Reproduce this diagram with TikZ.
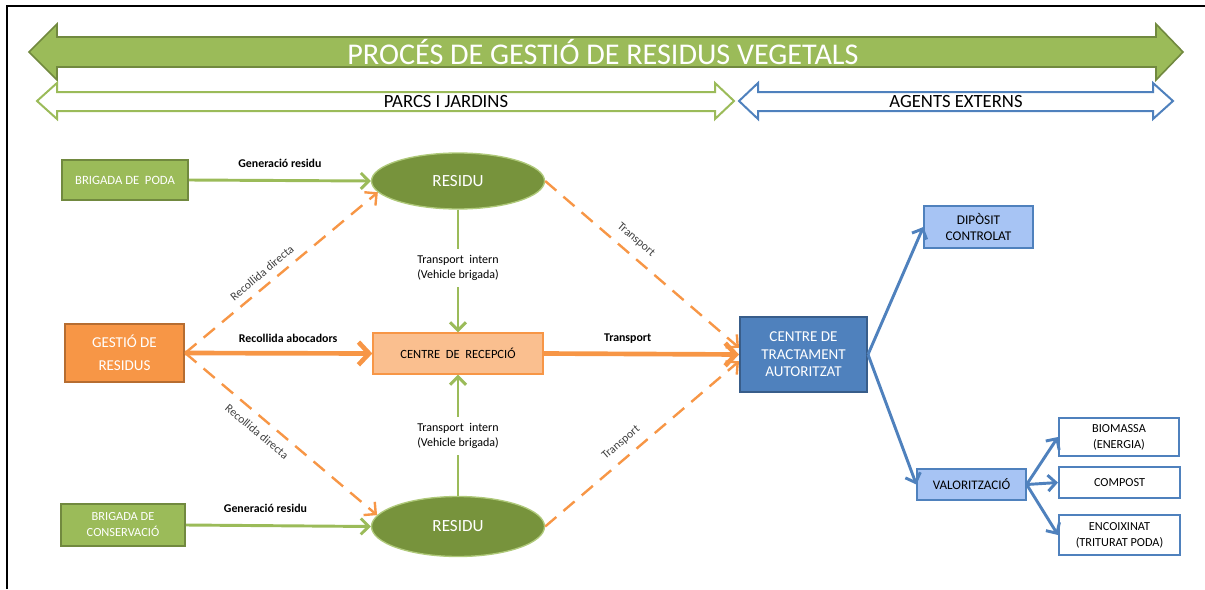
\documentclass[tikz,border=0pt]{standalone}
\usepackage{fontspec}
\setmainfont{Carlito}
\usetikzlibrary{arrows.meta,shapes.geometric,calc}
\definecolor{gA}{HTML}{9BBB59}
\definecolor{gB}{HTML}{77933C}
\definecolor{gBd}{HTML}{71893F}
\definecolor{oA}{HTML}{F79646}
\definecolor{oL}{HTML}{FABF8F}
\definecolor{oBd}{HTML}{B66D31}
\definecolor{bA}{HTML}{4F81BD}
\definecolor{bBd}{HTML}{385D8A}
\definecolor{bL}{HTML}{A7C4F4}
\definecolor{lbl}{HTML}{404040}
\tikzset{
  box/.style={rectangle, inner sep=1pt, align=center},
  greenbox/.style={box, fill=gA, draw=gBd, line width=1.5pt, text=white},
  residu/.style={ellipse, inner sep=0pt, fill=gB, draw=gA!80!white, line width=1pt, text=white, font=\fontsize{12.8}{14}\selectfont},
  lightblue/.style={box, fill=bL, draw=bA, line width=1pt, text=black},
  whitebox/.style={box, fill=white, draw=bA, line width=1.5pt, text=black},
  garrow/.style={draw=gA, line width=2.2pt, -{Straight Barb[length=6pt,width=12pt,line width=2.2pt]}},
  gline/.style={draw=gA, line width=2.2pt},
  othick/.style={draw=oA, line width=3.5pt, -{Straight Barb[length=8pt,width=17pt,line width=3.5pt]}},
  odash/.style={draw=oA, line width=1.8pt, dash pattern=on 11pt off 7pt, -{Straight Barb[length=6.5pt,width=13pt,line width=1.8pt]}},
  barrow/.style={draw=bA, line width=2.2pt, -{Straight Barb[length=6pt,width=12pt,line width=2.2pt]}},
  boldlbl/.style={font=\bfseries\fontsize{8.9}{10}\selectfont, text=black},
  rotlbl/.style={font=\fontsize{8.8}{10}\selectfont, text=lbl, sloped},
  smalllbl/.style={font=\fontsize{9}{11}\selectfont, text=black, align=center}
}
\begin{document}
\begin{tikzpicture}[x=0.75pt,y=-0.75pt]
\useasboundingbox (0,0) rectangle (1205,589);
% frame
\draw[line width=1.5pt, black] (7,589) -- (7,6) -- (1205,6);
% big arrow
\draw[fill=gA, draw=gBd, line width=1.2pt] (29,52) -- (57,24) -- (57,37) -- (1156,37) -- (1156,24) -- (1183,52) -- (1156,80) -- (1156,67) -- (57,67) -- (57,80) -- cycle;
\node[text=white, font=\fontsize{22.6}{24}\selectfont] (title) at (603,52) {PROCÉS DE GESTIÓ DE RESIDUS VEGETALS};
% parcs arrow
\draw[fill=white, draw=gA, line width=1.5pt] (37,101) -- (57,83) -- (57,92) -- (715,92) -- (715,83) -- (734,101) -- (715,119) -- (715,111) -- (57,111) -- (57,119) -- cycle;
\node[font=\fontsize{14}{15}\selectfont] (parcs) at (446,102) {PARCS I JARDINS};
% agents arrow
\draw[fill=white, draw=bA, line width=1.5pt] (739,101) -- (758,83) -- (758,92) -- (1153,92) -- (1153,83) -- (1173,101) -- (1153,119) -- (1153,111) -- (758,111) -- (758,119) -- cycle;
\node[font=\fontsize{14}{15}\selectfont] (agents) at (956,102) {AGENTS EXTERNS};
% nodes
\node[greenbox, minimum width=94.5pt, minimum height=30pt, font=\fontsize{9.5}{12}\selectfont] (poda) at (125,180) {BRIGADA DE\ \ PODA};
\node[greenbox, minimum width=93pt, minimum height=31.5pt, font=\fontsize{9.3}{12}\selectfont] (cons) at (123,525) {BRIGADA DE\\CONSERVACIÓ};
\node[residu, minimum width=129.75pt, minimum height=42pt] (res1) at (458,181) {RESIDU};
\node[residu, minimum width=129.75pt, minimum height=45pt] (res2) at (458,526.5) {RESIDU};
\node[box, fill=oA, draw=oBd, line width=1.8pt, text=white, minimum width=89.25pt, minimum height=43.5pt, font=\fontsize{11.3}{17}\selectfont] (gest) at (124.5,353) {GESTIÓ DE\\RESIDUS};
\node[box, fill=oL, draw=oA, line width=1pt, text=black, minimum width=127.5pt, minimum height=30.75pt, font=\fontsize{9.4}{10}\selectfont] (rec) at (458,353.5) {CENTRE\ \ DE\ \ RECEPCIÓ};
\node[box, fill=bA, draw=bBd, line width=1.5pt, text=white, minimum width=95.25pt, minimum height=56.25pt, font=\fontsize{11.3}{13.2}\selectfont] (trac) at (803.5,354.5) {CENTRE DE\\TRACTAMENT\\AUTORITZAT};
\node[lightblue, minimum width=81.75pt, minimum height=31.5pt, font=\fontsize{10}{12.5}\selectfont] (dip) at (978.5,227) {DIPÒSIT\\CONTROLAT};
\node[lightblue, minimum width=81.75pt, minimum height=23.25pt, font=\fontsize{9.8}{11}\selectfont] (val) at (971.5,484.5) {VALORITZACIÓ};
\node[whitebox, minimum width=90pt, minimum height=28.5pt, font=\fontsize{9.2}{12}\selectfont] (bio) at (1119,437) {BIOMASSA\\(ENERGIA)};
\node[whitebox, minimum width=90.75pt, minimum height=23.25pt, font=\fontsize{9.2}{11}\selectfont] (comp) at (1119.5,482.5) {COMPOST};
\node[whitebox, minimum width=90.75pt, minimum height=30pt, font=\fontsize{9.2}{12}\selectfont] (enc) at (1119.5,535) {ENCOIXINAT\\(TRITURAT PODA)};
% connectors left
\draw[garrow] (poda.east) -- node[boldlbl, above=5pt, pos=0.5] {Generació residu} (res1.west);
\draw[garrow] (cons.east) -- node[boldlbl, above=5pt, pos=0.43] {Generació residu} (res2.west);
\draw[othick] (gest.east) -- node[boldlbl, above=3pt, pos=0.55] {Recollida abocadors} (rec.west);
\draw[odash] (gest.east) -- node[rotlbl, above=2pt, pos=0.44] {Recollida directa} (res1.188);
\draw[odash] (gest.east) -- node[rotlbl, below=3pt, pos=0.42] {Recollida directa} (res2.172);
% vertical internal transport
\node[smalllbl] (ti1) at (458,268) {Transport\ \ intern\\(Vehicle brigada)};
\node[smalllbl] (ti2) at (458,436) {Transport\ \ intern\\(Vehicle brigada)};
\draw[gline] (res1.south) -- ($(ti1.north)+(0,-2)$);
\draw[garrow] ($(ti1.south)+(0,2)$) -- (rec.north);
\draw[gline] (res2.north) -- ($(ti2.south)+(0,2)$);
\draw[garrow] ($(ti2.north)+(0,-2)$) -- (rec.south);
% to treatment
\draw[othick] (rec.east) -- node[boldlbl, above=3pt, pos=0.43] {Transport} (trac.west);
\draw[odash] (res1.east) -- node[rotlbl, above=3pt, pos=0.42] {Transport} (trac.174);
\draw[odash] (res2.east) -- node[rotlbl, above=3pt, pos=0.44] {Transport} (trac.186);
% blue
\draw[barrow] (trac.east) -- (dip.west);
\draw[barrow] (trac.east) -- (val.west);
\draw[barrow] (val.east) -- (bio.west);
\draw[barrow] (val.east) -- (comp.west);
\draw[barrow] (val.east) -- (enc.west);
\end{tikzpicture}
\end{document}
